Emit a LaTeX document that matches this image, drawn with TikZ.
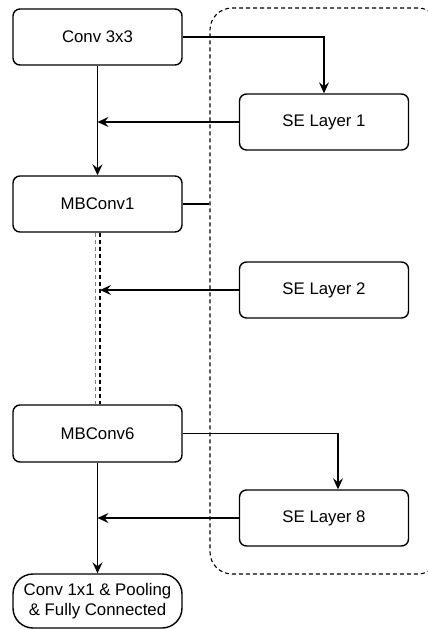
\documentclass[tikz,border=0pt]{standalone}
\usepackage{fontspec}
\setmainfont{Liberation Sans}
\usetikzlibrary{arrows.meta,calc}
\begin{document}
\begin{tikzpicture}[x=1pt,y=-1pt,
  box/.style={draw,line width=1.4pt,rounded corners=7pt,minimum width=169pt,minimum height=56pt,inner sep=0pt,font=\fontsize{16.8}{20}\selectfont},
  endbox/.style={box,rounded corners=20pt,minimum height=54pt,align=center},
  conn/.style={line width=1.6pt,-{Stealth[length=11pt,width=10pt,inset=4pt]}},
  thinconn/.style={conn,line width=1.1pt},
  plain/.style={line width=1.6pt},
  group/.style={draw,dashed,dash pattern=on 4pt off 3pt,line width=1.1pt,rounded corners=22pt,minimum width=230pt,minimum height=566pt,inner sep=0pt}]
\useasboundingbox (0,0) rectangle (428,629);
\begin{scope}
\clip (0,0) rectangle (428,629);
\node[group] (grp) at (325,291) {};
\end{scope}
\node[box] (conv) at (97.5,37) {Conv 3x3};
\node[box] (se1) at (324,122) {SE Layer 1};
\node[box] (mb1) at (97.5,204) {MBConv1};
\node[box] (se2) at (324,290) {SE Layer 2};
\node[box,minimum height=57pt] (mb6) at (97.5,433.5) {MBConv6};
\node[box] (se8) at (324,518) {SE Layer 8};
\node[endbox] (fin) at (97.5,601) {Conv 1x1 \& Pooling\\\& Fully Connected};
\coordinate (b8) at ($(se8.north)+(14,0)$);
% connectors
\draw[thinconn] (conv.east) -| (se1.north);
\draw[conn] (conv.south) -- (mb1.north);
\draw[conn] (se1.west) -- (se1.west -| conv.south);
\draw[plain] (mb1.east) -- (mb1.east -| grp.west);
\draw[line width=0.8pt,gray,dash pattern=on 4pt off 3pt] ($(mb1.south)+(-2.5,0)$) -- ($(mb6.north)+(-2.5,0)$);
\draw[line width=1.4pt,dash pattern=on 4pt off 3pt] ($(mb1.south)+(2.5,0)$) -- ($(mb6.north)+(2.5,0)$);
\draw[conn] (se2.west) -- ($(se2.west -| mb1.south)+(2.5,0)$);
\draw[thinconn] (mb6.east) -| (b8);
\draw[conn] (mb6.south) -- (fin.north);
\draw[conn] (se8.west) -- (se8.west -| mb6.south);
\end{tikzpicture}
\end{document}
